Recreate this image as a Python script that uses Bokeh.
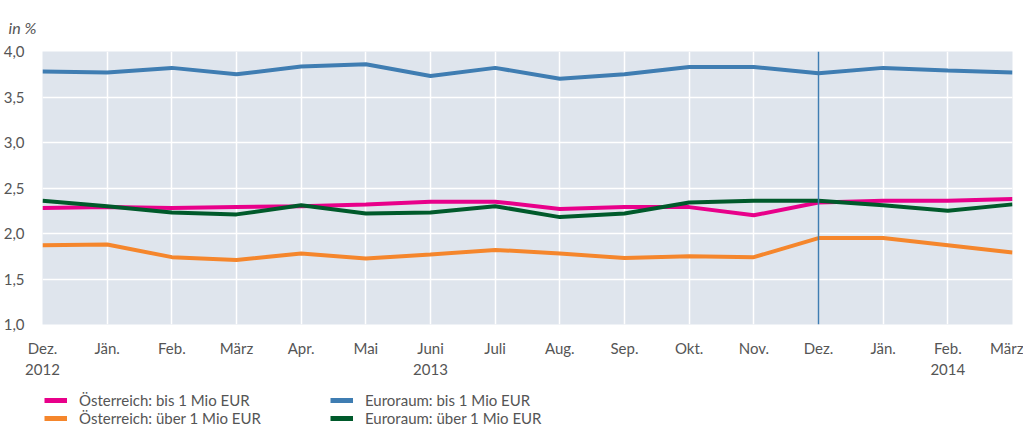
from bokeh.plotting import figure
from bokeh.models import (Range1d, FixedTicker, Legend, LegendItem, Span)
from bokeh.layouts import column
from bokeh.embed import file_html
from bokeh.resources import INLINE

months = ["Dez.", "Jän.", "Feb.", "März", "Apr.", "Mai", "Juni", "Juli",
          "Aug.", "Sep.", "Okt.", "Nov.", "Dez.", "Jän.", "Feb.", "März"]
years = ["2012", "", "", "", "", "", "2013", "", "", "", "", "", "", "", "2014", ""]

oe_bis = [2.28, 2.29, 2.28, 2.29, 2.30, 2.32, 2.35, 2.35, 2.27, 2.29, 2.29, 2.20, 2.34, 2.36, 2.36, 2.38]
oe_ueber = [1.87, 1.88, 1.74, 1.71, 1.78, 1.725, 1.77, 1.82, 1.78, 1.73, 1.75, 1.74, 1.95, 1.95, 1.87, 1.79]
eu_bis = [3.78, 3.77, 3.82, 3.75, 3.835, 3.86, 3.73, 3.82, 3.70, 3.75, 3.83, 3.83, 3.76, 3.82, 3.79, 3.77]
eu_ueber = [2.36, 2.30, 2.23, 2.21, 2.31, 2.22, 2.23, 2.30, 2.18, 2.22, 2.34, 2.36, 2.36, 2.31, 2.25, 2.32]

series_labels = ["Österreich: bis 1 Mio EUR", "Euroraum: bis 1 Mio EUR",
                 "Österreich: über 1 Mio EUR", "Euroraum: über 1 Mio EUR"]

y_ticks = [1.0, 1.5, 2.0, 2.5, 3.0, 3.5, 4.0]
y_labels = ["1,0", "1,5", "2,0", "2,5", "3,0", "3,5", "4,0"]
marker_month = 12

FONT = "Lato"
TXT = "#555555"
C_PINK = "#e8008a"
C_ORANGE = "#f5862c"
C_BLUE = "#3f7db2"
C_GREEN = "#005a2b"

x = list(range(len(months)))
series = [(oe_bis, C_PINK), (eu_bis, C_BLUE), (oe_ueber, C_ORANGE), (eu_ueber, C_GREEN)]

# ---------------- main chart ----------------
p = figure(frame_width=970, frame_height=273, output_backend="svg", toolbar_location=None,
           x_range=Range1d(0, len(months) - 1), y_range=Range1d(y_ticks[0], y_ticks[-1]),
           min_border_left=36, min_border_right=11, min_border_top=49, min_border_bottom=57)

p.background_fill_color = "#dfe5ed"
p.border_fill_color = "white"
p.outline_line_color = None

p.xgrid.ticker = FixedTicker(ticks=x)
p.ygrid.ticker = FixedTicker(ticks=y_ticks)
for g in (p.xgrid, p.ygrid):
    g.grid_line_color = "white"
    g.grid_line_width = 1.5

p.xaxis.ticker = FixedTicker(ticks=x)
p.xaxis.major_label_overrides = {i: (m + "\n" + y if y else m) for i, (m, y) in enumerate(zip(months, years))}
p.yaxis.ticker = FixedTicker(ticks=y_ticks)
p.yaxis.major_label_overrides = {t: l for t, l in zip(y_ticks, y_labels)}
for ax in (p.xaxis, p.yaxis):
    ax.axis_line_color = None
    ax.major_tick_line_color = None
    ax.minor_tick_line_color = None
    ax.major_label_text_font = FONT
    ax.major_label_text_font_size = "15px"
    ax.major_label_text_color = TXT
p.xaxis.major_label_standoff = 8
p.yaxis.major_label_standoff = 12

p.title.text = "in %"
p.title.text_font = FONT
p.title.text_font_style = "italic"
p.title.text_font_size = "16px"
p.title.text_color = TXT
p.title.align = "left"
p.title.offset = -34
p.title.standoff = 30

for vals, col in series:
    p.line(x, vals, line_color=col, line_width=4)

p.add_layout(Span(location=marker_month, dimension="height", line_color=C_BLUE, line_width=1.5))

# ---------------- legend strip ----------------
q = figure(width=1017, height=48, output_backend="svg", toolbar_location=None,
           x_range=Range1d(0, 1), y_range=Range1d(0, 1),
           min_border=0)
q.axis.visible = False
q.grid.visible = False
q.outline_line_color = None
q.background_fill_color = "white"
q.border_fill_color = "white"

items = []
for (vals, col), lab in zip(series, series_labels):
    r = q.line(x, vals, line_color=col, line_width=5)
    items.append(LegendItem(label=lab, renderers=[r]))

legend = Legend(items=items, orientation="horizontal", ncols=2, location=(2, 2))
legend.border_line_color = None
legend.background_fill_alpha = 0
legend.margin = 0
legend.padding = 0
legend.spacing = 0
legend.glyph_width = 23
legend.glyph_height = 18
legend.label_height = 18
legend.label_width = 251
legend.label_standoff = 12
legend.label_text_font = FONT
legend.label_text_font_size = "15px"
legend.label_text_color = TXT
q.add_layout(legend)

layout = column(p, q, spacing=0)
open("out.html", "w").write(file_html(layout, INLINE))
